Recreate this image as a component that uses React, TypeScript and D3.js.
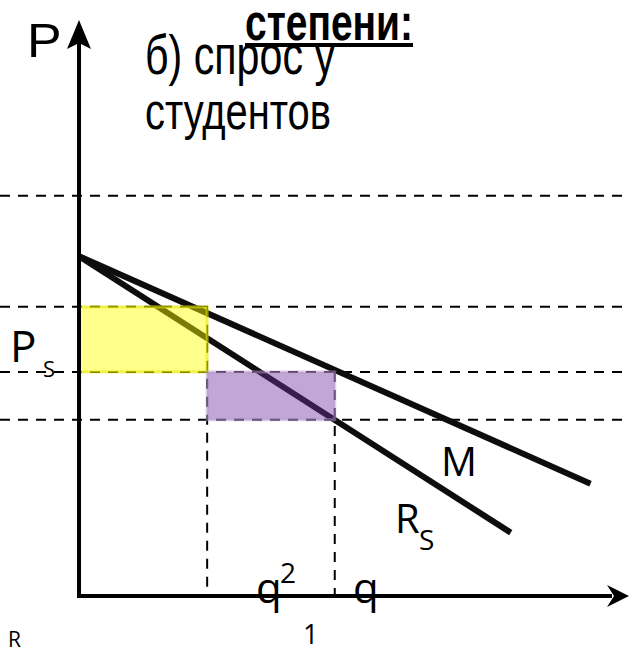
import React from "react";
import * as d3 from "d3";

const W = 629;
const H = 648;

// quantity levels (x units)
const qLevels = [23.3, 46.5]; // q2, q1
// price levels (y units): top dashed, P_S upper, middle, lower
const priceLevels = [69.5, 50.2, 38.9, 30.6];
// demand-type lines: [x, y] endpoints
const lineM = [[0, 59], [93, 19.5]];
const lineRs = [[0, 59], [78.5, 11]];
// shaded areas: [x0, x1, yLow, yHigh]
const yellowArea = [0, 23.3, 38.9, 50.2];
const purpleArea = [23.3, 46.5, 30.6, 38.9];

const x = d3.scaleLinear().domain([0, 100]).range([79, 629]);
const y = d3.scaleLinear().domain([0, 100]).range([596, 20]);

export default function App() {
  const line = d3.line<number[]>().x((d) => x(d[0])).y((d) => y(d[1]));
  const labelFont = "'Open Sans', 'Noto Sans', sans-serif";
  const titleFont = "'Liberation Sans', Arial, sans-serif";
  const dash = "10 8";
  return (
    <svg width={W} height={H} style={{ position: "absolute", left: 0, top: 0, background: "#fff" }}>
      <rect width={W} height={H} fill="#fff" />
      {/* dashed horizontal price levels */}
      {priceLevels.map((p, i) => (
        <line key={i} x1={0} x2={W} y1={y(p)} y2={y(p)} stroke="#000" strokeWidth={2} strokeDasharray={dash} />
      ))}
      {/* dashed verticals */}
      <line x1={x(qLevels[0])} x2={x(qLevels[0])} y1={y(priceLevels[1])} y2={y(0)} stroke="#000" strokeWidth={2} strokeDasharray={dash} />
      <line x1={x(qLevels[1])} x2={x(qLevels[1])} y1={y(priceLevels[2])} y2={y(0)} stroke="#000" strokeWidth={2} strokeDasharray={dash} />
      {/* curves */}
      <path d={line(lineM) || ""} stroke="#0d0d0d" strokeWidth={6} fill="none" />
      <path d={line(lineRs) || ""} stroke="#0d0d0d" strokeWidth={6} fill="none" />
      {/* shaded rectangles */}
      <rect
        x={x(yellowArea[0])}
        y={y(yellowArea[3])}
        width={x(yellowArea[1]) - x(yellowArea[0])}
        height={y(yellowArea[2]) - y(yellowArea[3])}
        fill="#ffff00"
        fillOpacity={0.45}
        stroke="#e6e600"
        strokeOpacity={0.6}
        strokeWidth={3}
      />
      <rect
        x={x(purpleArea[0])}
        y={y(purpleArea[3])}
        width={x(purpleArea[1]) - x(purpleArea[0])}
        height={y(purpleArea[2]) - y(purpleArea[3])}
        fill="#7030a0"
        fillOpacity={0.43}
        stroke="#b89ad0"
        strokeOpacity={0.5}
        strokeWidth={3}
      />
      {/* axes */}
      <line x1={x(0)} x2={x(0)} y1={y(0) + 2} y2={40} stroke="#000" strokeWidth={4} />
      <path d={`M${x(0)},20 L${x(0) + 12},49 L${x(0)},43 L${x(0) - 12},49 Z`} fill="#000" />
      <line x1={x(0)} x2={612} y1={y(0)} y2={y(0)} stroke="#000" strokeWidth={4} />
      <path d={`M629,${y(0)} L607,${y(0) - 11} L614,${y(0)} L607,${y(0) + 11} Z`} fill="#000" />
      {/* texts */}
      <text x={27} y={57} fontFamily={titleFont} fontSize={48} transform="translate(27,57) scale(1.08,1) translate(-27,-57)">P</text>
      <text x={145} y={74} fontFamily={titleFont} fontSize={55} textLength={190} lengthAdjust="spacingAndGlyphs">б) спрос у</text>
      <text x={145} y={129} fontFamily={titleFont} fontSize={52} textLength={186} lengthAdjust="spacingAndGlyphs">студентов</text>
      <text x={245} y={40} fontFamily={titleFont} fontSize={52} fontWeight="bold" textLength={168} lengthAdjust="spacingAndGlyphs">степени:</text>
      <rect x={245} y={43} width={168} height={4} fill="#000" />
      <text x={10} y={362} fontFamily={labelFont} fontSize={44}>P</text>
      <text x={43} y={377} fontFamily={labelFont} fontSize={22}>S</text>
      <text x={441} y={476} fontFamily={labelFont} fontSize={40}>M</text>
      <text x={395} y={533} fontFamily={labelFont} fontSize={40}>R</text>
      <text x={419} y={550} fontFamily={labelFont} fontSize={28}>S</text>
      <text x={256} y={603} fontFamily={labelFont} fontSize={42}>q</text>
      <text x={280} y={583} fontFamily={labelFont} fontSize={28}>2</text>
      <text x={353} y={603} fontFamily={labelFont} fontSize={42}>q</text>
      <text x={303} y={644} fontFamily={labelFont} fontSize={27}>1</text>
      <text x={8} y={647} fontFamily={labelFont} fontSize={21}>R</text>
    </svg>
  );
}
